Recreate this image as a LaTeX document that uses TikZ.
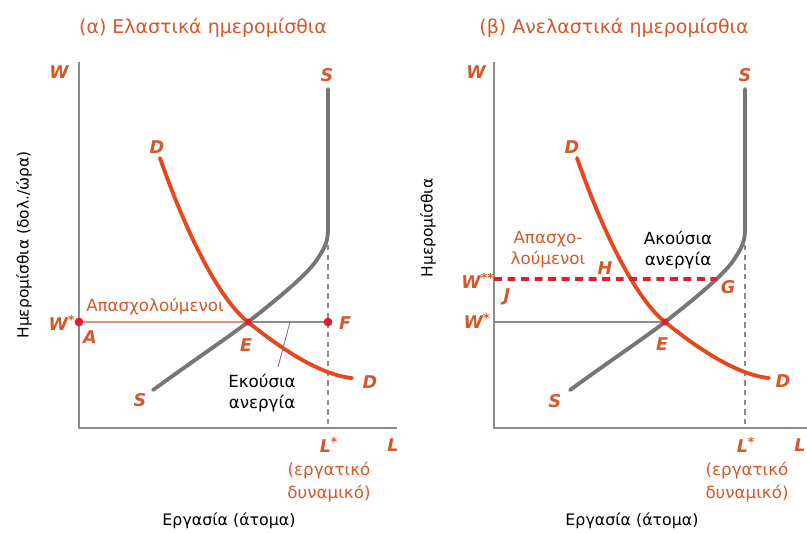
\documentclass[tikz,border=0pt]{standalone}
\usepackage{fontspec}
\setmainfont{DejaVu Sans}
\usetikzlibrary{intersections}

\definecolor{labor}{RGB}{214,88,40}
\definecolor{demred}{RGB}{228,72,30}
\definecolor{supgray}{RGB}{118,118,118}
\definecolor{axisgray}{RGB}{140,140,140}
\definecolor{emptan}{RGB}{222,150,120}
\definecolor{dotred}{RGB}{225,30,45}

\tikzset{
  axis/.style={draw=axisgray, line width=1.1pt},
  supply/.style={draw=supgray, line width=2.2pt, line cap=round},
  demand/.style={draw=demred, line width=2.2pt, line cap=round},
  lbl/.style={text=labor, font=\fontsize{10}{12}\selectfont\bfseries\itshape},
  txt/.style={font=\fontsize{9.5}{12}\selectfont, align=center},
  ttl/.style={text=labor, font=\fontsize{10.8}{13}\selectfont},
  potential/.style={draw=axisgray, line width=0.6pt, dash pattern=on 3pt off 2.5pt},
  wagefloor/.style={draw=dotred, line width=2.2pt, dash pattern=on 4.5pt off 3.2pt},
  dot/.style={circle, fill=dotred, inner sep=0pt, minimum size=5pt},
}

\begin{document}
\begin{tikzpicture}[x=0.02cm, y=-0.02cm]
  \useasboundingbox (0,0) rectangle (807,532);

  % (a) elastic wages
  \node[ttl] (ttla) at (203,28) {(α) Ελαστικά ημερομίσθια};
  \draw[axis] (79,62) -- (79,428) -- (397,428);
  \node[txt, rotate=90, font=\fontsize{8.8}{11}\selectfont] (ylba) at (24,245) {Ημερομίσθια (δολ./ώρα)};
  \node[txt, font=\fontsize{9}{11}\selectfont] (xlba) at (229,521) {Εργασία (άτομα)};
  \node[lbl] (Wa) at (59,72) {W};
  \node[lbl] (La) at (393,445) {L};

  \coordinate (Ea) at (248,322);
  \coordinate (Wsa) at (79,322);
  \coordinate (Fa) at (328,322);
  \draw[potential] (328,245) -- (328,428);
  \draw[supply] (153,390) .. controls (200,356) and (230,336) .. (Ea)
    .. controls (280,297) and (310,272) .. (318,258)
    .. controls (326,246) and (328,240) .. (328,228) -- (328,89);
  \draw[demand] (160,158) .. controls (185,230) and (218,298) .. (Ea)
    .. controls (280,348) and (320,375) .. (352,378);
  \draw[emptan, line width=0.8pt] (Wsa) -- (Ea);
  \draw[axisgray, line width=0.8pt] (Ea) -- (Fa);
  \node[dot] (dWa) at (Wsa) {};
  \node[dot] (dFa) at (Fa) {};
  \node[dot, minimum size=4pt] (dEa) at (Ea) {};

  \node[lbl] (Sta) at (327,75) {S};
  \node[lbl] (Dta) at (157,147) {D};
  \node[lbl] (Sba) at (140,400) {S};
  \node[lbl] (Dba) at (370,382) {D};
  \node[lbl] (Wstara) at (62,323) {W\textsuperscript{*}};
  \node[lbl] (Aa) at (90,337) {A};
  \node[lbl] (Ela) at (246,345) {E};
  \node[lbl] (Fla) at (345,323) {F};
  \node[lbl] (Lsa) at (329,445) {L\textsuperscript{*}};
  \node[txt, text=labor] (emp) at (155,307) {Απασχολούμενοι};
  \node[txt] (vola) at (262,393) {Εκούσια\\ανεργία};
  \coordinate (lead) at (290,322);
  \coordinate (leadend) at (278,367);
  \draw[supgray, line width=0.5pt] (lead) -- (leadend);
  \node[txt, text=labor, font=\fontsize{9.5}{13}\selectfont] (pota) at (329,482) {(εργατικό\\δυναμικό)};

  % (b) inelastic wages
  \node[ttl] (ttlb) at (614,28) {(β) Ανελαστικά ημερομίσθια};
  \draw[axis] (494,62) -- (494,428) -- (807,428);
  \node[txt, rotate=90, font=\fontsize{8.8}{11}\selectfont] (ylbb) at (428,228) {Ημερομίσθια};
  \node[txt, font=\fontsize{9}{11}\selectfont] (xlbb) at (632,521) {Εργασία (άτομα)};
  \node[lbl] (Wb) at (476,72) {W};
  \node[lbl] (Lb) at (800,445) {L};

  \begin{scope}[shift={(417,0)}]
    \coordinate (Eb) at (248,322);
    \draw[potential] (328,245) -- (328,428);
    \draw[supply, name path global=Sb] (153,390) .. controls (200,356) and (230,336) .. (Eb)
      .. controls (280,297) and (310,272) .. (318,258)
      .. controls (326,246) and (328,240) .. (328,228) -- (328,89);
    \draw[demand, name path global=Db] (160,158) .. controls (185,230) and (218,298) .. (Eb)
      .. controls (280,348) and (320,375) .. (352,378);
  \end{scope}
  \coordinate (Wsb) at (494,322);
  \coordinate (Wssb) at (494,279);
  \path[name path=wlev] (Wssb) -- (800,279);
  \path[name intersections={of=Sb and wlev, by=G}];
  \draw[axisgray, line width=0.8pt] (Wsb) -- (Eb);
  \draw[wagefloor] (Wssb) -- (G);
  \node[dot, minimum size=4pt] (dEb) at (Eb) {};

  \node[lbl] (Stb) at (745,75) {S};
  \node[lbl] (Dtb) at (572,147) {D};
  \node[lbl] (Sbb) at (555,401) {S};
  \node[lbl] (Dbb) at (783,381) {D};
  \node[lbl] (Wssl) at (478,281) {W\textsuperscript{**}};
  \node[lbl] (Wsl) at (477,321) {W\textsuperscript{*}};
  \node[lbl] (Jb) at (507,297) {J};
  \node[lbl] (Hb) at (605,268) {H};
  \node[lbl] (Gb) at (728,287) {G};
  \node[lbl] (Elb) at (662,344) {E};
  \node[lbl] (Lsb) at (746,445) {L\textsuperscript{*}};
  \node[txt, text=labor] (empb) at (548,250) {Απασχο-\\λούμενοι};
  \node[txt] (invb) at (678,250) {Ακούσια\\ανεργία};
  \node[txt, text=labor, font=\fontsize{9.5}{13}\selectfont] (potb) at (747,482) {(εργατικό\\δυναμικό)};
\end{tikzpicture}
\end{document}
